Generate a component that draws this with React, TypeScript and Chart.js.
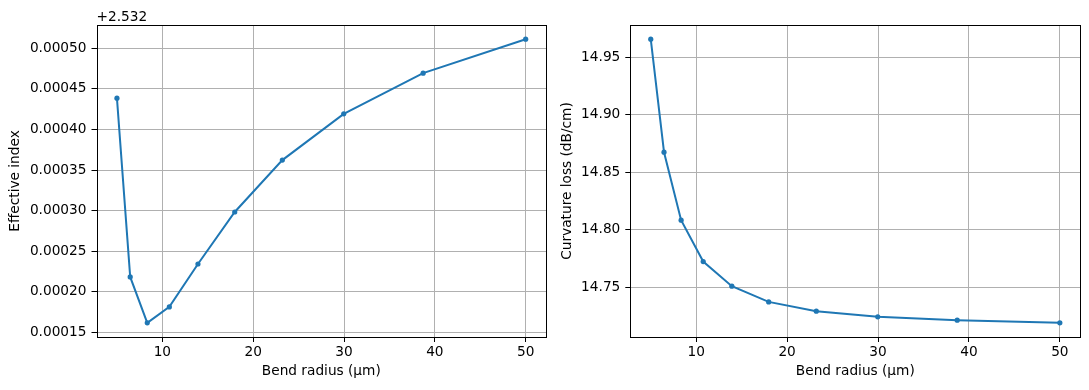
import React, { useEffect, useRef } from "react";
import { Chart, registerables } from "chart.js";

Chart.register(...registerables);

// ---- data ----
const bendRadius = [5, 6.46, 8.34, 10.77, 13.92, 17.97, 23.21, 29.97, 38.71, 50];
const effIndexOffset = 2.532;
const effectiveIndex = [
  2.5324385, 2.5322185, 2.532162, 2.5321816, 2.5322344, 2.5322984, 2.5323623, 2.5324192, 2.5324693, 2.5325111,
];
const curvatureLoss = [14.9657, 14.8674, 14.8083, 14.7723, 14.7509, 14.7372, 14.7291, 14.7242, 14.7213, 14.719];
const xTicks = [10, 20, 30, 40, 50];
const effTicks = [2.53215, 2.5322, 2.53225, 2.5323, 2.53235, 2.5324, 2.53245, 2.5325];
const lossTicks = [14.75, 14.8, 14.85, 14.9, 14.95];

const xTitle = "Bend radius (µm)";
const yTitleLeft = "Effective index";
const yTitleRight = "Curvature loss (dB/cm)";

// ---- style ----
const FONT = '"DejaVu Sans", sans-serif';
const FS = 13.7;
const BLUE = "#1f77b4";
const GRID = "#b0b0b0";

const framePlugin = {
  id: "frame",
  afterDraw(chart: any, _args: any, opts: any) {
    const { ctx, chartArea: a } = chart;
    ctx.save();
    ctx.strokeStyle = "#000";
    ctx.lineWidth = 1;
    const l = Math.round(a.left) + 0.5;
    const t = Math.round(a.top) + 0.5;
    const r = Math.round(a.right) + 0.5;
    const b = Math.round(a.bottom) + 0.5;
    ctx.strokeRect(l, t, r - l, b - t);
    if (opts && opts.text) {
      ctx.fillStyle = "#000";
      ctx.font = `${FS}px ${FONT}`;
      ctx.textAlign = "left";
      ctx.textBaseline = "alphabetic";
      ctx.fillText(opts.text, a.left, a.top - 4.3);
    }
    ctx.restore();
  },
};

function span(v: number[]) {
  const mn = Math.min(...v);
  const mx = Math.max(...v);
  const m = (mx - mn) * 0.05;
  return [mn - m, mx + m];
}

interface PanelProps {
  ys: number[];
  yTicks: number[];
  yTitle: string;
  fmt: (v: number) => string;
  offsetText?: string;
  width: number;
  left: number;
  yAxisWidth: number;
  padRight: number;
  titlePad: number;
}

function Panel(p: PanelProps) {
  const ref = useRef<HTMLCanvasElement | null>(null);
  useEffect(() => {
    if (!ref.current) return;
    const [xmin, xmax] = span(bendRadius);
    const [ymin, ymax] = span(p.ys);
    const chart = new Chart(ref.current, {
      type: "line",
      data: {
        datasets: [
          {
            data: bendRadius.map((x, i) => ({ x, y: p.ys[i] })),
            borderColor: BLUE,
            backgroundColor: BLUE,
            borderWidth: 2,
            pointRadius: 2.6,
            pointBorderWidth: 0,
            pointBackgroundColor: BLUE,
            tension: 0,
            fill: false,
          },
        ],
      },
      options: {
        animation: false,
        responsive: false,
        devicePixelRatio: 1,
        layout: { padding: { left: 0, top: 25, right: p.padRight, bottom: 0 } },
        plugins: {
          legend: { display: false },
          tooltip: { enabled: false },
          frame: { text: p.offsetText },
        } as any,
        scales: {
          x: {
            type: "linear",
            min: xmin,
            max: xmax,
            afterBuildTicks: (s: any) => {
              s.ticks = xTicks.map((v) => ({ value: v }));
            },
            afterFit: (s: any) => {
              s.height = 53;
            },
            grid: { color: GRID, lineWidth: 1, tickColor: "#000", tickLength: 5, tickWidth: 1 },
            border: { display: false },
            ticks: {
              color: "#000",
              font: { family: FONT, size: FS },
              padding: 2,
              maxRotation: 0,
              callback: (v: any) => String(v),
            },
            title: {
              display: true,
              text: xTitle,
              color: "#000",
              font: { family: FONT, size: FS },
              padding: { top: 0, bottom: 10 },
            },
          },
          y: {
            type: "linear",
            min: ymin,
            max: ymax,
            afterBuildTicks: (s: any) => {
              s.ticks = p.yTicks.map((v) => ({ value: v }));
            },
            afterFit: (s: any) => {
              s.width = p.yAxisWidth;
            },
            grid: { color: GRID, lineWidth: 1, tickColor: "#000", tickLength: 5, tickWidth: 1 },
            border: { display: false },
            ticks: {
              color: "#000",
              font: { family: FONT, size: FS },
              padding: 5,
              callback: (v: any) => p.fmt(Number(v)),
            },
            title: {
              display: true,
              text: p.yTitle,
              color: "#000",
              font: { family: FONT, size: FS },
              padding: { top: p.titlePad, bottom: 0 },
            },
          },
        },
      },
      plugins: [framePlugin],
    });
    return () => chart.destroy();
  }, []);
  return (
    <canvas
      ref={ref}
      width={p.width}
      height={390}
      style={{ position: "absolute", left: p.left, top: 0, width: p.width, height: 390, display: "block" }}
    />
  );
}

export default function App() {
  return (
    <div style={{ position: "absolute", left: 0, top: 0, width: 1089, height: 390, background: "#fff" }}>
      <Panel
        ys={effectiveIndex}
        yTicks={effTicks}
        yTitle={yTitleLeft}
        fmt={(v) => (v - effIndexOffset).toFixed(5)}
        offsetText={"+" + effIndexOffset.toFixed(3)}
        width={555}
        left={0}
        yAxisWidth={96.5}
        padRight={8.9}
        titlePad={7}
      />
      <Panel
        ys={curvatureLoss}
        yTicks={lossTicks}
        yTitle={yTitleRight}
        fmt={(v) => v.toFixed(2)}
        width={534}
        left={555}
        yAxisWidth={75.3}
        padRight={8.7}
        titlePad={4.4}
      />
    </div>
  );
}
